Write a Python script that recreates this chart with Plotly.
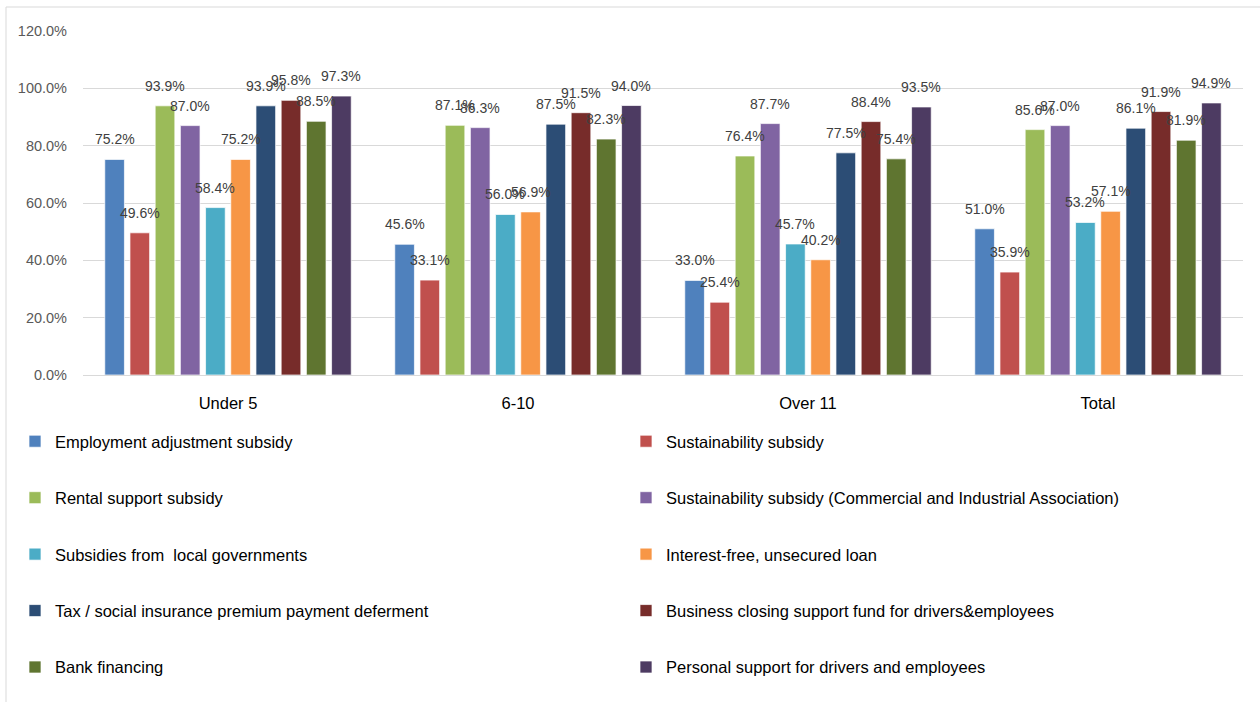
import plotly.graph_objects as go

categories = ["Under 5", "6-10", "Over 11", "Total"]

series_names = [
    "Employment adjustment subsidy",
    "Sustainability subsidy",
    "Rental support subsidy",
    "Sustainability subsidy (Commercial and Industrial Association)",
    "Subsidies from  local governments",
    "Interest-free, unsecured loan",
    "Tax / social insurance premium payment deferment",
    "Business closing support fund for drivers&employees",
    "Bank financing",
    "Personal support for drivers and employees",
]

employment_adjustment = [75.2, 45.6, 33.0, 51.0]
sustainability = [49.6, 33.1, 25.4, 35.9]
rental_support = [93.9, 87.1, 76.4, 85.6]
sustainability_cia = [87.0, 86.3, 87.7, 87.0]
local_governments = [58.4, 56.0, 45.7, 53.2]
interest_free_loan = [75.2, 56.9, 40.2, 57.1]
tax_deferment = [93.9, 87.5, 77.5, 86.1]
business_closing = [95.8, 91.5, 88.4, 91.9]
bank_financing = [88.5, 82.3, 75.4, 81.9]
personal_support = [97.3, 94.0, 93.5, 94.9]

series_values = [
    employment_adjustment, sustainability, rental_support, sustainability_cia,
    local_governments, interest_free_loan, tax_deferment, business_closing,
    bank_financing, personal_support,
]

colors = ["#4F81BD", "#C0504D", "#9BBB59", "#8064A2", "#4BACC6",
          "#F79646", "#2C4D75", "#772C2A", "#5F7530", "#4D3B62"]

FONT = "Liberation Sans, Arial, sans-serif"
BARGAP = 0.131
BARGROUPGAP = 0.22

fig = go.Figure()
n = len(series_names)
for i, (name, vals, col) in enumerate(zip(series_names, series_values, colors)):
    fig.add_trace(go.Bar(
        name=name, x=categories, y=vals,
        marker=dict(color=col, line=dict(color="rgba(255,255,255,0.7)", width=1)),
        legend="legend" if i % 2 == 0 else "legend2",
        legendgroup=name,
        hoverinfo="skip",
    ))
    slot = (1 - BARGAP) / n
    for ci, v in enumerate(vals):
        fig.add_annotation(
            x=ci + (i - (n - 1) / 2) * slot, y=v, xref="x", yref="y",
            text=f"{v:.1f}%", showarrow=False, yanchor="middle", yshift=20,
            font=dict(family=FONT, size=14, color="#404040"),
        )

W, H = 1260, 702
L, R, T, B = 83, 17, 31, 327
pw, ph = W - L - R, H - T - B

def px_x(x):
    return (x - L) / pw

def px_y(y):
    return (H - y - B) / ph

legend_common = dict(
    orientation="v", yanchor="top", xanchor="left",
    font=dict(family=FONT, size=16.5, color="#000000"),
    bgcolor="rgba(0,0,0,0)", tracegroupgap=32, traceorder="grouped",
)

fig.update_layout(
    width=W, height=H,
    margin=dict(l=L, r=R, t=T, b=B),
    paper_bgcolor="white", plot_bgcolor="white",
    barmode="group", bargap=BARGAP, bargroupgap=BARGROUPGAP,
    font=dict(family=FONT),
    legend=dict(x=px_x(15), y=px_y(424), **legend_common),
    legend2=dict(x=px_x(626), y=px_y(424), **legend_common),
    xaxis=dict(
        showgrid=False, showline=False, zeroline=False,
        tickfont=dict(family=FONT, size=16.5, color="#000000"),
        ticklabelstandoff=16,
    ),
    yaxis=dict(
        range=[0, 120], dtick=20, tickformat=".1f", ticksuffix="%",
        showgrid=True, gridcolor="#D9D9D9", gridwidth=1,
        zeroline=True, zerolinecolor="#D9D9D9", zerolinewidth=1,
        showline=False,
        tickfont=dict(family=FONT, size=14.5, color="#595959"),
        ticklabelstandoff=15,
    ),
    shapes=[dict(
        type="rect", xref="paper", yref="paper",
        x0=px_x(6), x1=px_x(1300), y0=px_y(760), y1=px_y(7),
        line=dict(color="#D9D9D9", width=1), fillcolor="rgba(0,0,0,0)",
        layer="below",
    )],
)

fig.write_html("out.html")
